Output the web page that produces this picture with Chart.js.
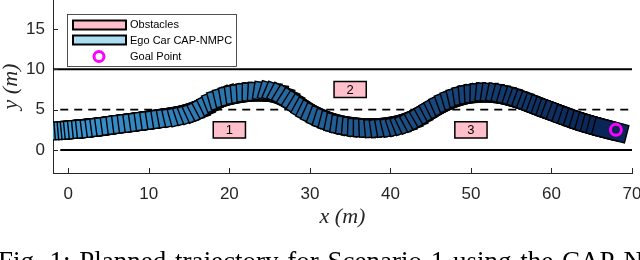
<!DOCTYPE html>
<html>
<head>
<meta charset="utf-8">
<script src="https://cdn.jsdelivr.net/npm/chart.js@4.4.1/dist/chart.umd.min.js"></script>
<style>
  html, body { margin: 0; padding: 0; background: #fff; }
  #wrap { position: relative; width: 640px; height: 260px; overflow: hidden; }
  #box { position: absolute; left: 0; top: 0; width: 640px; height: 260px; }
  #caption { position: absolute; top: 248px; left: -2px; font-family: "Liberation Serif"; font-size: 27px; line-height: 27px; word-spacing: 2px; white-space: nowrap; color: #000; }
</style>
</head>
<body>
<div id="wrap">
  <div id="box"><canvas id="trajChart"></canvas></div>
  <div id="caption">Fig. 1: Planned trajectory for Scenario 1 using the CAP-NMPC</div>
</div>
<script>
const xTicks = [0, 10, 20, 30, 40, 50, 60, 70];
const yTicks = [0, 5, 10, 15];

// road: two solid borders and the dashed centre line
const roadY = [0, 10];
const roadStartX = [-1, -2];
const laneY = 5;
const laneStartX = -1;
const roadEndX = 70;

const obstacleX = [20, 35, 50];
const obstacleY = [2.5, 7.5, 2.5];
const obstacleNames = ["1", "2", "3"];
const obstacleLength = 4;
const obstacleWidth = 2;

// ego car centre positions
const egoX = [0, 0.4, 0.8, 1.2, 1.6, 2.1, 2.6, 3.1, 3.7, 4.3,
  4.9, 5.5, 6.2, 6.9, 7.6, 8.3, 9.0, 9.7, 10.4, 11.1,
  11.8, 12.5, 13.2, 13.9, 14.6, 15.3, 15.9, 16.5, 17.1, 17.7,
  18.3, 18.9, 19.5, 20.2, 20.9, 21.6, 22.3, 23.0, 23.7, 24.4,
  25.1, 25.8, 26.4, 27.0, 27.6, 28.2, 28.8, 29.4, 30.0, 30.6,
  31.2, 31.9, 32.6, 33.3, 34.0, 34.7, 35.4, 36.1, 36.8, 37.5,
  38.2, 38.9, 39.6, 40.3, 41.0, 41.7, 42.3, 42.9, 43.5, 44.1,
  44.7, 45.3, 45.9, 46.5, 47.1, 47.8, 48.5, 49.2, 49.9, 50.6,
  51.3, 52.0, 52.7, 53.4, 54.1, 54.8, 55.5, 56.2, 56.8, 57.4,
  58.0, 58.6, 59.2, 59.8, 60.4, 61.0, 61.7, 62.4, 63.1, 63.8,
  64.5, 65.2, 65.9, 66.6, 67.3];
const egoY = [2.50, 2.53, 2.56, 2.60, 2.64, 2.69, 2.74, 2.79, 2.86, 2.94,
  3.02, 3.10, 3.20, 3.29, 3.38, 3.47, 3.56, 3.66, 3.76, 3.85,
  3.96, 4.07, 4.19, 4.33, 4.51, 4.73, 4.94, 5.21, 5.50, 5.83,
  6.14, 6.41, 6.60, 6.79, 6.93, 7.04, 7.12, 7.18, 7.19, 7.17,
  7.11, 6.95, 6.72, 6.45, 6.09, 5.72, 5.33, 4.96, 4.60, 4.30,
  4.01, 3.72, 3.48, 3.27, 3.10, 2.98, 2.89, 2.81, 2.77, 2.76,
  2.77, 2.81, 2.90, 3.01, 3.15, 3.36, 3.58, 3.84, 4.15, 4.48,
  4.83, 5.17, 5.50, 5.80, 6.09, 6.37, 6.60, 6.79, 6.93, 7.01,
  7.06, 7.07, 7.02, 6.93, 6.81, 6.63, 6.43, 6.21, 6.00, 5.78,
  5.55, 5.32, 5.10, 4.87, 4.66, 4.45, 4.17, 3.92, 3.69, 3.46,
  3.25, 3.04, 2.85, 2.66, 2.48];
const carLength = 4.2;
const carWidth = 2.2;

const goalX = [68];
const goalY = [2.5];

const legendLabels = ["Obstacles", "Ego Car CAP-NMPC", "Goal Point"];

const axisColor = "#262626";
const startRGB = [60, 155, 215];
const endRGB = [10, 38, 88];

function carColor(i) {
  const t = i / (egoX.length - 1);
  const c = startRGB.map((v, k) => Math.round(v + (endRGB[k] - v) * t));
  return `rgb(${c[0]},${c[1]},${c[2]})`;
}

// rectangle in data units -> pixel polygon
function rectPath(ctx, xs, ys, cx, cy, len, wid, ang) {
  const c = Math.cos(ang), s = Math.sin(ang);
  const corners = [[len / 2, wid / 2], [-len / 2, wid / 2], [-len / 2, -wid / 2], [len / 2, -wid / 2]];
  ctx.beginPath();
  corners.forEach(([a, b], k) => {
    const px = xs.getPixelForValue(cx + a * c - b * s);
    const py = ys.getPixelForValue(cy + a * s + b * c);
    if (k === 0) ctx.moveTo(px, py); else ctx.lineTo(px, py);
  });
  ctx.closePath();
}

const scenePlugin = {
  id: "scene",
  beforeDatasetDraw(chart, args) {
    if (chart.data.datasets[args.index].label !== "Goal Point") return;
    const { ctx, chartArea, scales } = chart;
    const xs = scales.x, ys = scales.y;
    ctx.save();
    ctx.beginPath();
    ctx.rect(chartArea.left, chartArea.top, chartArea.width, chartArea.height);
    ctx.clip();

    obstacleX.forEach((ox, i) => {
      rectPath(ctx, xs, ys, ox, obstacleY[i], obstacleLength, obstacleWidth, 0);
      ctx.fillStyle = "#ffc0cb";
      ctx.fill();
      ctx.lineWidth = 1.5;
      ctx.strokeStyle = "#000";
      ctx.stroke();
      ctx.fillStyle = "#000";
      ctx.font = "13px 'Liberation Sans'";
      ctx.textAlign = "center";
      ctx.textBaseline = "middle";
      ctx.fillText(obstacleNames[i], xs.getPixelForValue(ox), ys.getPixelForValue(obstacleY[i]) + 1);
    });

    const n = egoX.length;
    for (let i = 0; i < n; i++) {
      const a = Math.max(i - 1, 0), b = Math.min(i + 1, n - 1);
      const ang = Math.atan2(egoY[b] - egoY[a], egoX[b] - egoX[a]);
      rectPath(ctx, xs, ys, egoX[i], egoY[i], carLength, carWidth, ang);
      ctx.fillStyle = carColor(i);
      ctx.fill();
      ctx.lineWidth = 1.4;
      ctx.strokeStyle = "#000";
      ctx.stroke();
    }
    ctx.restore();
  },
  afterDraw(chart) {
    const { ctx, chartArea, scales } = chart;
    const { left, bottom, top } = chartArea;
    ctx.save();
    // inward tick marks
    ctx.strokeStyle = axisColor;
    ctx.lineWidth = 1;
    ctx.beginPath();
    xTicks.forEach(v => {
      const px = Math.round(scales.x.getPixelForValue(v)) + 0.5;
      ctx.moveTo(px, bottom);
      ctx.lineTo(px, bottom - 5);
    });
    yTicks.forEach(v => {
      const py = Math.round(scales.y.getPixelForValue(v)) + 0.5;
      ctx.moveTo(left, py);
      ctx.lineTo(left + 5, py);
    });
    ctx.stroke();

    // legend box
    const lx = left + 14, ly = top + 14;
    ctx.fillStyle = "#fff";
    ctx.fillRect(lx, ly, 169, 52);
    ctx.lineWidth = 0.8;
    ctx.strokeStyle = axisColor;
    ctx.strokeRect(lx + 0.5, ly + 0.5, 169, 52);

    ctx.lineWidth = 2;
    ctx.strokeStyle = "#000";
    ctx.fillStyle = "#ffc0cb";
    ctx.fillRect(lx + 6, ly + 6.5, 53, 9);
    ctx.strokeRect(lx + 6, ly + 6.5, 53, 9);
    ctx.fillStyle = "#aadcf2";
    ctx.fillRect(lx + 6, ly + 21.5, 53, 9);
    ctx.strokeRect(lx + 6, ly + 21.5, 53, 9);

    ctx.beginPath();
    ctx.arc(lx + 32, ly + 42.5, 5, 0, Math.PI * 2);
    ctx.lineWidth = 3;
    ctx.strokeStyle = "#ff00ff";
    ctx.stroke();

    ctx.fillStyle = "#000";
    ctx.font = "11px 'Liberation Sans'";
    ctx.textAlign = "left";
    ctx.textBaseline = "middle";
    ctx.fillText(legendLabels[0], lx + 63, ly + 11);
    ctx.fillText(legendLabels[1], lx + 63, ly + 26.5);
    ctx.fillText(legendLabels[2], lx + 63, ly + 42.5);
    ctx.restore();
  }
};

const roadSets = roadY.map((ry, i) => ({
  label: "Road " + i,
  data: [{ x: roadStartX[i], y: ry }, { x: roadEndX, y: ry }],
  showLine: true,
  borderColor: "#000",
  borderWidth: 2,
  pointRadius: 0
}));

const ctx = document.getElementById("trajChart").getContext("2d");
const trajChart = new Chart(ctx, {
  type: "scatter",
  data: {
    datasets: [
      {
        label: "Goal Point",
        data: goalX.map((gx, i) => ({ x: gx, y: goalY[i] })),
        pointStyle: "circle",
        pointRadius: 5.5,
        borderWidth: 3,
        borderColor: "#ff00ff",
        backgroundColor: "rgba(0,0,0,0)"
      },
      {
        label: "Lane centre",
        data: [{ x: laneStartX, y: laneY }, { x: roadEndX, y: laneY }],
        showLine: true,
        borderColor: "#000",
        borderWidth: 1.8,
        borderDash: [8, 6],
        pointRadius: 0
      },
      ...roadSets
    ]
  },
  options: {
    responsive: true,
    maintainAspectRatio: false,
    animation: false,
    layout: { autoPadding: false, padding: { left: 0, right: 8, top: 0, bottom: 0 } },
    scales: {
      x: {
        type: "linear",
        min: -1.9,
        max: 70,
        afterBuildTicks: s => { s.ticks = xTicks.map(v => ({ value: v })); },
        afterFit: s => { s.height = 87; s.paddingLeft = 0; s.paddingRight = 0; },
        grid: { display: false, drawTicks: false },
        border: { display: true, color: axisColor, width: 1 },
        ticks: { padding: 11, color: axisColor, font: { family: "Liberation Sans", size: 17 } },
        title: {
          display: true,
          text: "x (m)",
          color: axisColor,
          font: { family: "Liberation Serif", size: 22, style: "italic", lineHeight: 1 },
          padding: { top: 0, bottom: 32 }
        }
      },
      y: {
        type: "linear",
        min: -2.85,
        max: 18.6,
        afterBuildTicks: s => { s.ticks = yTicks.map(v => ({ value: v })); },
        afterFit: s => { s.width = 53; s.paddingTop = 0; s.paddingBottom = 0; },
        grid: { display: false, drawTicks: false },
        border: { display: true, color: axisColor, width: 1 },
        ticks: { padding: 8, color: axisColor, font: { family: "Liberation Sans", size: 17 } },
        title: {
          display: true,
          text: "y (m)",
          color: axisColor,
          font: { family: "Liberation Serif", size: 22, style: "italic", lineHeight: 1 },
          padding: { top: 0, bottom: 0 }
        }
      }
    },
    plugins: {
      legend: { display: false },
      tooltip: { enabled: false }
    }
  },
  plugins: [scenePlugin]
});
</script>
</body>
</html>
